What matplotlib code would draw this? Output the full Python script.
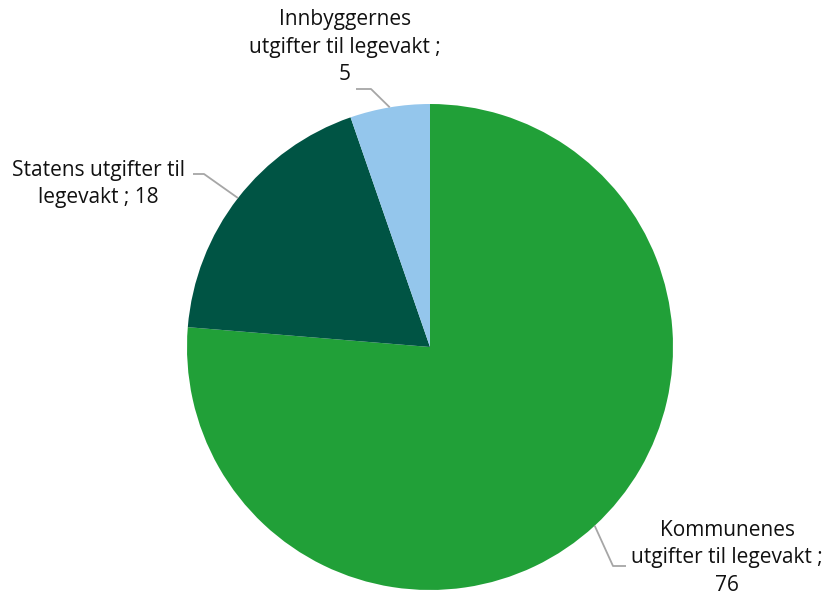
import numpy as np
import matplotlib
matplotlib.use("Agg")
import matplotlib.pyplot as plt

plt.rcParams['font.family'] = ['Open Sans', 'DejaVu Sans']

labels = ["Kommunenes utgifter til legevakt", "Statens utgifter til legevakt", "Innbyggernes utgifter til legevakt"]
values = [76.3, 18.4, 5.3]          # slice sizes
shown_values = [76, 18, 5]           # rounded values printed in labels
colors = ["#21a038", "#005444", "#94c6ec"]
label_texts = ["Kommunenes\nutgifter til legevakt ;\n76",
               "Statens utgifter til\nlegevakt ; 18",
               "Innbyggernes\nutgifter til legevakt ;\n5"]

W, H = 827, 601
cx, cy, R = 430, 347, 243
fig = plt.figure(figsize=(W / 100, H / 100), dpi=100)
ax = fig.add_axes([0, 0, 1, 1])

wedges, _ = ax.pie(values, colors=colors, startangle=90, counterclock=False,
                   radius=1, center=(0, 0), wedgeprops=dict(linewidth=0))
ax.set_xlim(-cx / R, (W - cx) / R)
ax.set_ylim(-(H - cy) / R, cy / R)
ax.set_aspect('equal')
ax.axis('off')

def px(x, y):
    return ((x - cx) / R, (cy - y) / R)

# layout: text centre (pixels), elbow point, line end near text
layout = [
    dict(text=(727, 558), elbow=(613, 566), end=(626, 566)),
    dict(text=(98, 184), elbow=(204, 174), end=(193, 174)),
    dict(text=(345, 47), elbow=(371, 89), end=(356, 89)),
]

for w, t, lay in zip(wedges, label_texts, layout):
    ang = np.deg2rad((w.theta1 + w.theta2) / 2)
    ex, ey = np.cos(ang), np.sin(ang)
    el = px(*lay['elbow'])
    en = px(*lay['end'])
    ax.plot([ex, el[0], en[0]], [ey, el[1], en[1]], color="#a6a6a6", lw=1.3,
            solid_capstyle='butt', zorder=1)
    tx, ty = px(*lay['text'])
    ax.text(tx, ty, t, ha='center', va='center', fontsize=15, color="#111111",
            linespacing=1.4)

fig.savefig("out.png", dpi=100)
